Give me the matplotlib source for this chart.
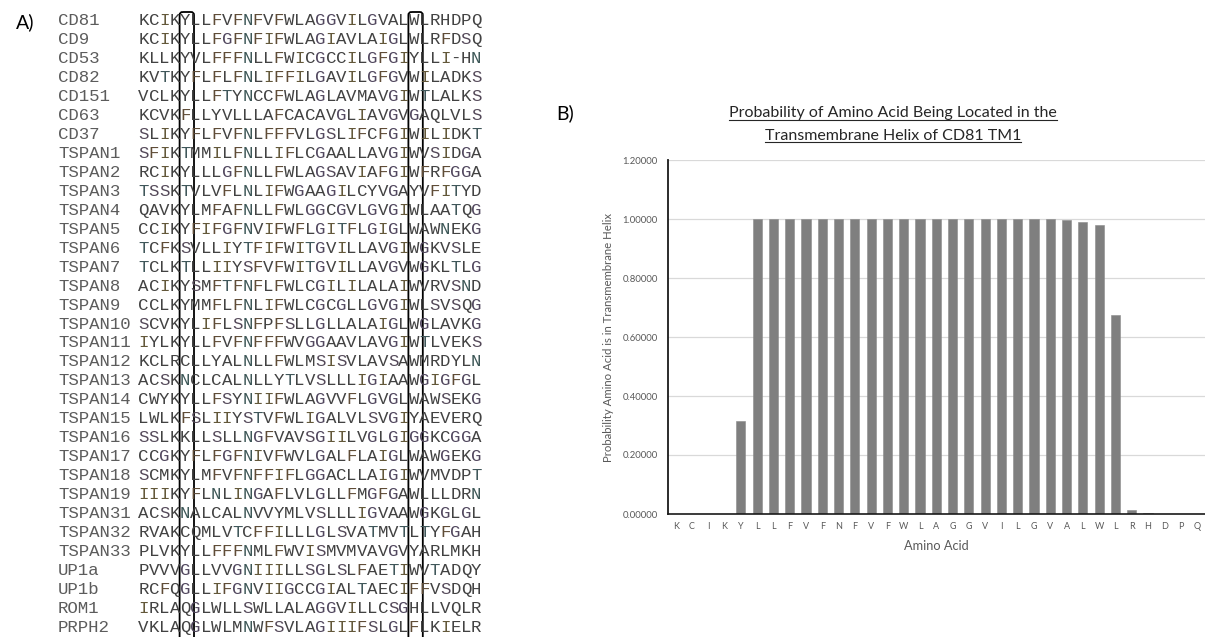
import matplotlib
matplotlib.use("Agg")
import matplotlib.pyplot as plt
from matplotlib.patches import FancyBboxPatch
from matplotlib.lines import Line2D

# ---------------------------------------------------------------- data
protein_names = [
    "CD81", "CD9", "CD53", "CD82", "CD151", "CD63", "CD37",
    "TSPAN1", "TSPAN2", "TSPAN3", "TSPAN4", "TSPAN5", "TSPAN6", "TSPAN7",
    "TSPAN8", "TSPAN9", "TSPAN10", "TSPAN11", "TSPAN12", "TSPAN13",
    "TSPAN14", "TSPAN15", "TSPAN16", "TSPAN17", "TSPAN18", "TSPAN19",
    "TSPAN31", "TSPAN32", "TSPAN33", "UP1a", "UP1b", "ROM1", "PRPH2",
]

tm1_sequences = [
    "KCIKYLLFVFNFVFWLAGGVILGVALWLRHDPQ",
    "KCIKYLLFGFNFIFWLAGIAVLAIGLWLRFDSQ",
    "KLLKYVLFFFNLLFWICGCCILGFGIYLLI-HN",
    "KVTKYFLFLFNLIFFILGAVILGFGVWILADKS",
    "VCLKYLLFTYNCCFWLAGLAVMAVGIWTLALKS",
    "KCVKFLLYVLLLAFCACAVGLIAVGVGAQLVLS",
    "SLIKYFLFVFNLFFFVLGSLIFCFGIWILIDKT",
    "SFIKTMMILFNLLIFLCGAALLAVGIWVSIDGA",
    "RCIKYLLLGFNLLFWLAGSAVIAFGIWFRFGGA",
    "TSSKTVLVFLNLIFWGAAGILCYVGAYVFITYD",
    "QAVKYLMFAFNLLFWLGGCGVLGVGIWLAATQG",
    "CCIKYFIFGFNVIFWFLGITFLGIGLWAWNEKG",
    "TCFKSVLLIYTFIFWITGVILLAVGIWGKVSLE",
    "TCLKTLLIIYSFVFWITGVILLAVGVWGKLTLG",
    "ACIKYSMFTFNFLFWLCGILILALAIWVRVSND",
    "CCLKYMMFLFNLIFWLCGCGLLGVGIWLSVSQG",
    "SCVKYLIFLSNFPFSLLGLLALAIGLWGLAVKG",
    "IYLKYLLFVFNFFFWVGGAAVLAVGIWTLVEKS",
    "KCLRCLLYALNLLFWLMSISVLAVSAWMRDYLN",
    "ACSKNCLCALNLLYTLVSLLLIGIAAWGIGFGL",
    "CWYKYLLFSYNIIFWLAGVVFLGVGLWAWSEKG",
    "LWLKFSLIIYSTVFWLIGALVLSVGIYAEVERQ",
    "SSLKKLLSLLNGFVAVSGIILVGLGIGGKCGGA",
    "CCGKYFLFGFNIVFWVLGALFLAIGLWAWGEKG",
    "SCMKYLMFVFNFFIFLGGACLLAIGIWVMVDPT",
    "IIIKYFLNLINGAFLVLGLLFMGFGAWLLLDRN",
    "ACSKNALCALNVVYMLVSLLLIGVAAWGKGLGL",
    "RVAKCQMLVTCFFILLLGLSVATMVTLTYFGAH",
    "PLVKYLLFFFNMLFWVISMVMVAVGVYARLMKH",
    "PVVVGLLVVGNIIILLSGLSLFAETIWVTADQY",
    "RCFQGLLIFGNVIIGCCGIALTAECIFFVSDQH",
    "IRLAQGLWLLSWLLALAGGVILLCSGHLLVQLR",
    "VKLAQGLWLMNWFSVLAGIIIFSLGLFLKIELR",
]

boxed_columns = [4, 26]

cd81_residues = list("KCIKYLLFVFNFVFWLAGGVILGVALWLRHDPQ")
tm_probability = [
    0.0, 0.0, 0.0, 0.0, 0.316,
    1.0, 1.0, 1.0, 1.0, 1.0, 1.0, 1.0, 1.0, 1.0,
    1.0, 1.0, 1.0, 1.0, 1.0, 1.0, 1.0, 1.0, 1.0,
    0.999, 0.995, 0.989, 0.980, 0.675,
    0.012, 0.004, 0.0, 0.0, 0.0,
]
y_ticks = [0.0, 0.2, 0.4, 0.6, 0.8, 1.0, 1.2]

# ---------------------------------------------------------------- layout
W, H, DPI = 1205, 637, 100
fig = plt.figure(figsize=(W / DPI, H / DPI), dpi=DPI)
fig.patch.set_facecolor("white")

# pixel-space overlay (x right, y down)
ov = fig.add_axes([0, 0, 1, 1])
ov.set_xlim(0, W)
ov.set_ylim(H, 0)
ov.axis("off")

mono = "Liberation Mono"
sans = "Lato"

# ---------------------------------------------------------------- panel A
ov.text(25, 22, "A)", fontsize=14, family=sans, color="black",
        ha="center", va="center")

seq_x0 = 138.3
cell = 10.4
row0 = 20.0
row_step = 18.97
tints = {"F": "#5f4c37", "I": "#63583a", "N": "#3e5858",
         "G": "#51475e", "T": "#40575a", "S": "#554a5a"}
base_col = "#424242"

for r, (name, seq) in enumerate(zip(protein_names, tm1_sequences)):
    yb = row0 + r * row_step + 5.0
    ov.text(58, yb, name, fontsize=12.5, family=mono, color="#5c5c5c",
            ha="left", va="baseline")
    for i, ch in enumerate(seq):
        ov.text(seq_x0 + (i + 0.5) * cell, yb, ch, fontsize=12.5,
                family=mono, color=tints.get(ch, base_col),
                ha="center", va="baseline")

for c in boxed_columns:
    x0 = seq_x0 + c * cell - 0.3
    box = FancyBboxPatch((x0, 12), cell + 4.0, 700,
                         boxstyle="round,pad=0,rounding_size=3",
                         fill=False, ec="black", lw=1.3, clip_on=True)
    ov.add_patch(box)

# ---------------------------------------------------------------- panel B
ov.text(565, 113, "B)", fontsize=14, family=sans, color="black",
        ha="center", va="center")

left_px, right_px, top_px, bottom_px = 667.5, 1205.0, 160.0, 514.0
ax = fig.add_axes([left_px / W, (H - bottom_px) / H,
                   (right_px - left_px) / W, (bottom_px - top_px) / H])
ax.set_facecolor("none")

xpos = list(range(len(cd81_residues)))
ax.bar(xpos, tm_probability, width=0.56, color="#7f7f7f",
       edgecolor="#8a8a8a", linewidth=0.4, zorder=3)

ax.set_xlim(-0.5, len(cd81_residues) - 0.5)
ax.set_ylim(0, 1.2)
ax.set_yticks(y_ticks)
ax.set_yticklabels([f"{v:.5f}" for v in y_ticks])
ax.set_xticks(xpos)
ax.set_xticklabels(cd81_residues)
ax.tick_params(axis="both", length=0, colors="#595959")
ax.tick_params(axis="y", pad=7, labelsize=6.8)
ax.tick_params(axis="x", pad=6, labelsize=6.5)
for lab in ax.get_xticklabels() + ax.get_yticklabels():
    lab.set_family(sans)

ax.grid(axis="y", color="#d9d9d9", lw=0.9, zorder=0)
ax.set_axisbelow(True)
for s in ("top", "right"):
    ax.spines[s].set_visible(False)
ax.spines["left"].set_color("#1a1a1a")
ax.spines["left"].set_linewidth(1.3)
ax.spines["bottom"].set_color("#1a1a1a")
ax.spines["bottom"].set_linewidth(1.2)
ax.spines["left"].set_zorder(4)
ax.spines["bottom"].set_zorder(4)

ov.text(608, 337, "Probability Amino Acid is in Transmembrane Helix",
        rotation=90, fontsize=8.2, family=sans, color="#595959",
        ha="center", va="center")
ov.text(936, 546, "Amino Acid", fontsize=9.2, family=sans, color="#595959",
        ha="center", va="center")

# underlined two-line title
title_lines = ["Probability of Amino Acid Being Located in the",
               "Transmembrane Helix of CD81 TM1"]
title_baselines = [117.5, 139.5]
title_cx = 893
t_objs = []
for txt, yb in zip(title_lines, title_baselines):
    t_objs.append(ov.text(title_cx, yb, txt, fontsize=11.5, family=sans,
                          color="#262626", ha="center", va="baseline"))

fig.canvas.draw()
inv = ov.transData.inverted()
for t, yb in zip(t_objs, title_baselines):
    bb = t.get_window_extent()
    (xa, _), (xb, _) = inv.transform([[bb.x0, bb.y0], [bb.x1, bb.y1]])
    ov.add_line(Line2D([xa, xb], [yb + 2.2, yb + 2.2], color="#262626",
                       lw=0.8))

fig.savefig("out.png", dpi=DPI, facecolor="white")
